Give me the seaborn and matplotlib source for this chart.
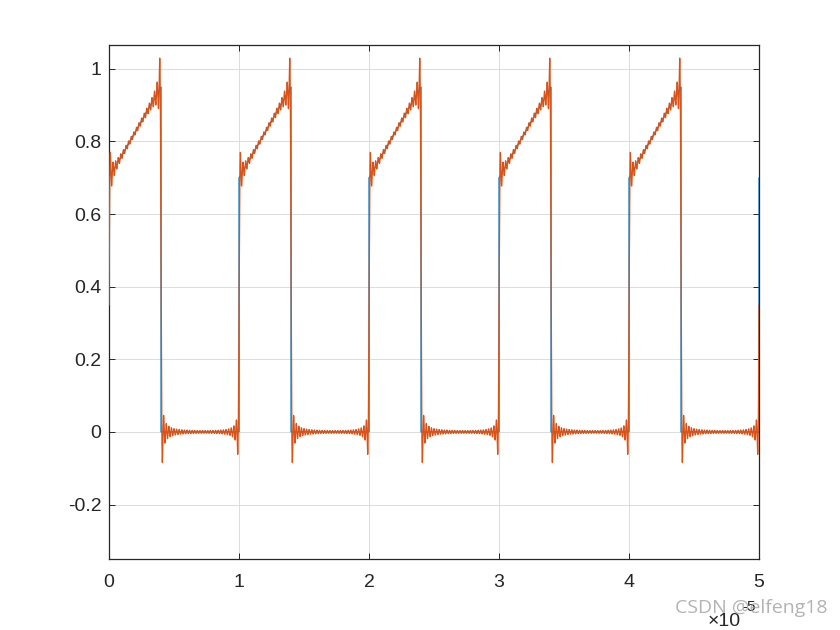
import numpy as np
import pandas as pd
import matplotlib
matplotlib.use("Agg")
import matplotlib.pyplot as plt
import seaborn as sns

# ---------------- data ----------------
period = 1e-5                       # seconds
n_periods = 5
# one period of the original (blue) waveform: breakpoints as fraction of period
shape_t = [0.0, 0.4, 0.4, 1.0]
shape_v = [0.70, 0.95, 0.0, 0.0]
n_harmonics = 50                    # truncated Fourier series (orange)
x_ticks = [0, 1, 2, 3, 4, 5]        # in units of 1e-5 s
x_tick_labels = ["0", "1", "2", "3", "4", "5"]
y_ticks = [-0.2, 0.0, 0.2, 0.4, 0.6, 0.8, 1.0]
y_tick_labels = ["-0.2", "0", "0.2", "0.4", "0.6", "0.8", "1"]
x_limits = [0, 5]
y_limits = [-0.35, 1.066]
watermark = "CSDN @elfeng18"

# ---------------- build series ----------------
bt, bv = [], []
for p in range(n_periods):
    bt += [(p + s) * period for s in shape_t]
    bv += shape_v
bt.append(n_periods * period)
bv.append(shape_v[0])
blue = pd.DataFrame({"t": bt, "v": bv})

# Fourier coefficients of the blue waveform (one period)
M = 20000
u = (np.arange(M) + 0.5) / M
seg = np.where(u < shape_t[1],
               shape_v[0] + (shape_v[1] - shape_v[0]) * u / shape_t[1],
               shape_v[2])
k = np.arange(n_harmonics + 1)
coef = (seg[None, :] * np.exp(-2j * np.pi * k[:, None] * u[None, :])).mean(axis=1)

tt = np.linspace(0, n_periods * period, 30001)
phase = np.exp(2j * np.pi * k[:, None] * tt[None, :] / period)
w = np.where(k == 0, 1.0, 2.0)
recon = np.real((w[:, None] * coef[:, None] * phase).sum(axis=0))
orange = pd.DataFrame({"t": tt, "v": recon})

# ---------------- plot ----------------
sns.set_theme(style="white")
plt.rcParams["font.family"] = ["Liberation Sans", "DejaVu Sans"]

fig = plt.figure(figsize=(8.4, 6.3), dpi=100)
ax = fig.add_axes([0.1298, 0.1127, 0.7738, 0.816])

sns.lineplot(data=blue, x="t", y="v", estimator=None, sort=False,
             color="#0072BD", linewidth=0.9, ax=ax, zorder=3)
sns.lineplot(data=orange, x="t", y="v", estimator=None, sort=False,
             color="#D95319", linewidth=0.9, ax=ax, zorder=3.1)

ax.set_xlim(x_limits[0] * period, x_limits[1] * period)
ax.set_ylim(*y_limits)
ax.set_xticks([x * period for x in x_ticks])
ax.set_xticklabels(x_tick_labels)
ax.set_yticks(y_ticks)
ax.set_yticklabels(y_tick_labels)
ax.set_xlabel("")
ax.set_ylabel("")

ax.grid(True, color="#dcdcdc", linewidth=0.7)
ax.set_axisbelow(True)
for s in ax.spines.values():
    s.set_color("#262626")
    s.set_linewidth(0.9)
    s.set_visible(True)
ax.tick_params(axis="both", which="both", direction="in", length=4.5,
               width=0.7, color="#262626", labelsize=14,
               labelcolor="#262626", top=True, right=True,
               bottom=True, left=True)
ax.tick_params(axis="x", pad=10.5)
ax.tick_params(axis="y", pad=5.5)

fig.text(708 / 840, (630 - 626) / 630, "\u00d710", fontsize=14,
         color="#262626", ha="left", va="baseline")
fig.text(742 / 840, (630 - 611) / 630, "-5", fontsize=11,
         color="#262626", ha="left", va="baseline")

fig.text(751 / 840, (630 - 608) / 630, watermark, fontsize=14,
         family=["Open Sans", "DejaVu Sans"], color="#9a9a9a", alpha=0.75,
         ha="center", va="center")

fig.savefig("out.png", dpi=100, facecolor="white")
